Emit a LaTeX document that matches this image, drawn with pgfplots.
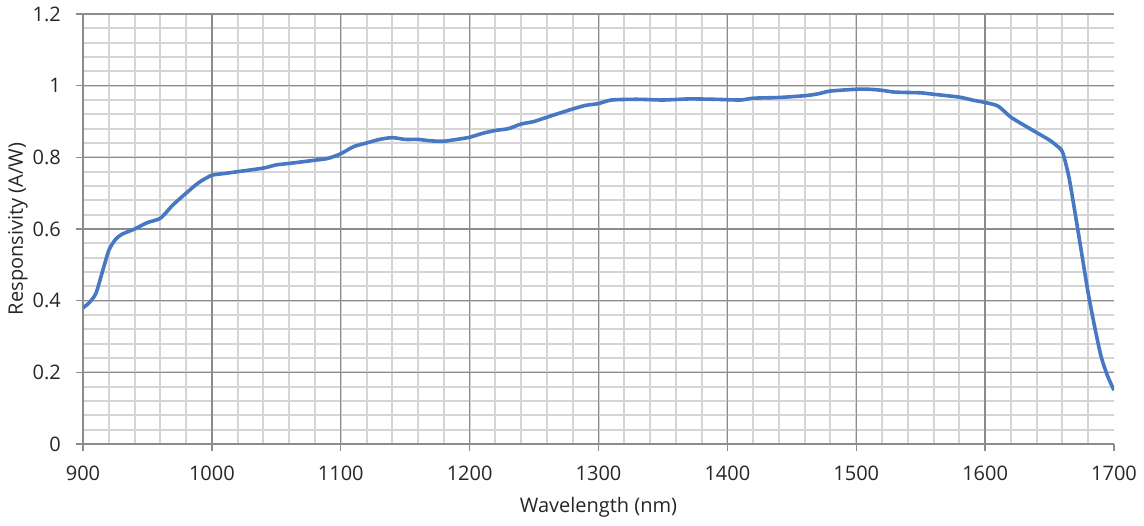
\documentclass[border=0pt]{standalone}
\usepackage{pgfplots}
\pgfplotsset{compat=1.18}
\usepackage{fontspec}
\setmainfont{Open Sans}
\definecolor{curve}{RGB}{70,120,195}
\definecolor{majgrid}{RGB}{140,140,140}
\definecolor{mingrid}{RGB}{212,212,212}
\begin{document}
\begin{tikzpicture}
\begin{axis}[
  scale only axis,
  width=515.5pt, height=215pt,
  xmin=900, xmax=1700, ymin=0, ymax=1.2,
  xtick={900,1000,...,1700},
  ytick={0,0.2,...,1.2},
  minor xtick={920,940,...,1680},
  minor ytick={0.04,0.08,...,1.17},
  grid=minor,
  minor grid style={mingrid, line width=1pt},
  extra x ticks={1000,1100,...,1600},
  extra y ticks={0.2,0.4,...,1.1},
  extra x tick labels={}, extra y tick labels={},
  extra tick style={grid=major, major grid style={majgrid, line width=0.7pt}},
  axis line style={majgrid, line width=0.7pt},
  axis lines*=left,
  tick align=outside,
  major tick length=3.5pt, minor tick length=0pt,
  tick style={majgrid, line width=0.7pt},
  xtick pos=bottom, ytick pos=left,
  /pgf/number format/assume math mode=true,
  ticklabel style={font=\fontsize{10}{12}\selectfont, text=black!85},
  label style={font=\fontsize{10}{12}\selectfont, text=black!85},
  xlabel={Wavelength (nm)},
  ylabel={Responsivity (A/W)},
  xlabel style={at={(axis description cs:0.5,-0.1465)}, anchor=center},
  ylabel style={at={(axis description cs:-0.063,0.5)}, anchor=center},
  x tick label style={yshift=-4pt},
  y tick label style={xshift=-4pt},
  /pgf/number format/.cd, 1000 sep={}, fixed,
]
\addplot[curve, line width=1.8pt, smooth, tension=0.4] coordinates {
(900,0.380) (905,0.395) (910,0.420) (915,0.480) (920,0.540) (925,0.570)
(930,0.585) (940,0.600) (950,0.618) (960,0.630) (970,0.668) (980,0.700)
(990,0.730) (1000,0.750) (1010,0.755) (1020,0.760) (1040,0.770) (1050,0.779)
(1060,0.783) (1080,0.792) (1090,0.797) (1100,0.810) (1110,0.830) (1120,0.840)
(1130,0.850) (1140,0.855) (1150,0.850) (1160,0.850) (1170,0.846) (1180,0.845)
(1190,0.850) (1200,0.856) (1210,0.867) (1220,0.875) (1230,0.880) (1240,0.893)
(1250,0.900) (1260,0.912) (1280,0.935) (1290,0.945) (1300,0.950) (1310,0.960)
(1330,0.962) (1350,0.960) (1370,0.963) (1390,0.962) (1410,0.960) (1420,0.965)
(1440,0.967) (1460,0.972) (1470,0.977) (1480,0.985) (1500,0.990) (1510,0.990)
(1520,0.987) (1530,0.982) (1550,0.980) (1560,0.976) (1580,0.968) (1590,0.960)
(1600,0.953) (1610,0.943) (1620,0.912) (1630,0.890) (1640,0.869) (1650,0.848)
(1655,0.834) (1660,0.815) (1665,0.745) (1670,0.640) (1675,0.530) (1680,0.420)
(1685,0.327) (1690,0.244) (1695,0.190) (1700,0.150)
};
\end{axis}
\pgfresetboundingbox
\path (current axis.south west) +(-41.5pt,-40.5pt) (current axis.north east) +(15pt,7pt);
\end{tikzpicture}
\end{document}
